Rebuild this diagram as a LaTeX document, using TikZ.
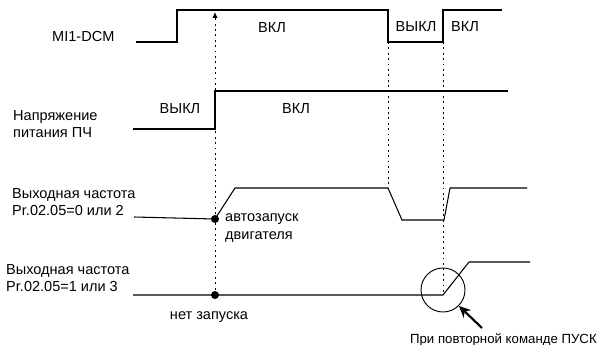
\documentclass[tikz,border=0pt]{standalone}
\usepackage{fontspec}
\setmainfont{Liberation Sans}
\usetikzlibrary{arrows.meta,positioning}

\begin{document}
\begin{tikzpicture}[x=0.03cm, y=-0.03cm,
    lbl/.style={inner sep=0pt, align=left, font=\fontsize{12.4}{15}\selectfont},
    wave/.style={line width=0.9pt},
    guide/.style={line width=0.8pt, dash pattern=on 1.6pt off 3pt}]
  \useasboundingbox (0,0) rectangle (597,345);

  % signal names
  \node[lbl, anchor=west] (mi) at (52,37) {MI1-DCM};
  \node[lbl, anchor=west] (volt) at (13,124) {Напряжение\\питания ПЧ};
  \node[lbl, anchor=west] (outA) at (12,202) {Выходная частота\\Pr.02.05=0 или 2};
  \node[lbl, anchor=west] (outB) at (6,278) {Выходная частота\\Pr.02.05=1 или 3};

  % states
  \node[lbl] (miOn) at (272,28) {ВКЛ};
  \node[lbl] (miOff) at (416,27) {ВЫКЛ};
  \node[lbl] (miOnB) at (465,27) {ВКЛ};
  \node[lbl] (voltOff) at (180,109) {ВЫКЛ};
  \node[lbl] (voltOn) at (296,109) {ВКЛ};
  \node[lbl, anchor=west] (auto) at (225,228) {автозапуск\\двигателя};
  \node[lbl] (nostart) at (209,317) {нет запуска};
  \node[lbl, anchor=east, font=\fontsize{11.3}{14}\selectfont] (again) at (597,340) {При повторной команде ПУСК};

  % waveforms
  \draw[wave] (136,42) -- (177,42) -- (177,10) -- (388,10) -- (388,42) -- (443,42) -- (443,10) -- (502,10);
  \draw[wave] (133,129) -- (215,129) -- (215,91) -- (508,91);
  \draw[wave] (134,217) -- (215,219) -- (235,188) -- (388,188) -- (402,220) -- (444,220) -- (450,188) -- (527,188);
  \draw[wave] (133,295) -- (443,295) -- (469,262) -- (530,262);

  % events
  \coordinate (dotA) at (215,219);
  \coordinate (dotB) at (215,295);
  \coordinate (top) at (215,12);
  \fill (dotA) circle [radius=0.12cm];
  \fill (dotB) circle [radius=0.12cm];
  \draw[guide, -{Latex[length=5pt,width=4.5pt]}] (dotB) -- (top);
  \draw[guide] (388,42) -- (388,188);
  \draw[guide] (443,42) -- (443,295);

  \node[draw, circle, line width=0.8pt, minimum size=1.32cm, inner sep=0pt] (ring) at (443,290) {};
  \coordinate (tail) at (482,328);
  \draw[line width=1.8pt, -{Stealth[length=10pt,width=9pt]}] (tail) -- (ring.south east);
\end{tikzpicture}
\end{document}
